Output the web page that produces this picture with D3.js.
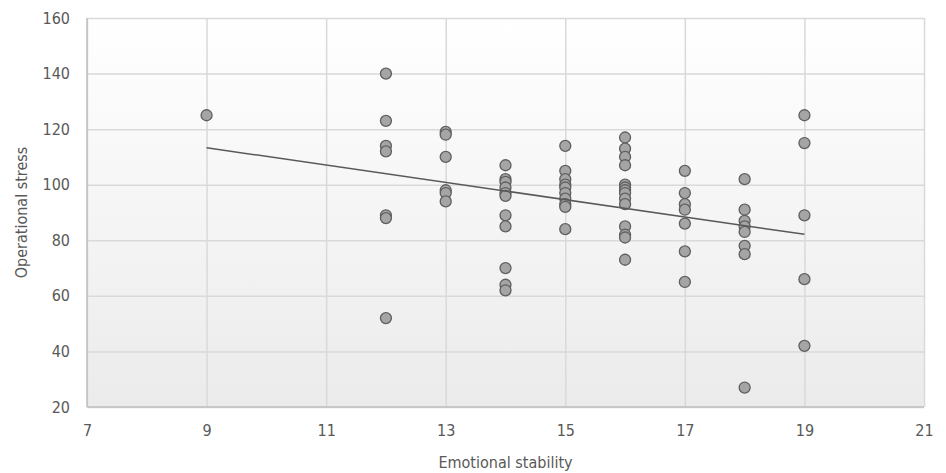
<!DOCTYPE html>
<html>
<head>
<meta charset="utf-8">
<script src="https://cdn.jsdelivr.net/npm/d3@7"></script>
<style>
  body { margin: 0; background: #fff; }
  svg text { font-family: "Liberation Sans Narrow", "Arial Narrow", "DejaVu Sans Condensed", sans-serif; fill: #595959; }
</style>
</head>
<body>
<figure id="scatter" style="margin:0"></figure>
<script>
// emotional stability (x) and operational stress (y), one column per x value
const xValues = [9,
  12, 12, 12, 12, 12, 12, 12,
  13, 13, 13, 13, 13, 13,
  14, 14, 14, 14, 14, 14, 14, 14, 14, 14, 14,
  15, 15, 15, 15, 15, 15, 15, 15, 15, 15,
  16, 16, 16, 16, 16, 16, 16, 16, 16, 16, 16, 16, 16, 16,
  17, 17, 17, 17, 17, 17, 17,
  18, 18, 18, 18, 18, 18, 18, 18,
  19, 19, 19, 19, 19];
const yValues = [125,
  140, 123, 114, 112, 89, 88, 52,
  119, 118, 110, 98, 97, 94,
  107, 102, 101, 99, 97, 96, 89, 85, 70, 64, 62,
  114, 105, 102, 100, 99, 97, 95, 93, 92, 84,
  117, 113, 110, 107, 100, 99, 98, 97, 95, 93, 85, 82, 81, 73,
  105, 97, 93, 91, 86, 76, 65,
  102, 91, 87, 85, 83, 78, 75, 27,
  125, 115, 89, 66, 42];

const xTicks = [7, 9, 11, 13, 15, 17, 19, 21];
const yTicks = [20, 40, 60, 80, 100, 120, 140, 160];

const W = 946, H = 473;
const margin = { top: 18, right: 22, bottom: 66, left: 87 };
const width = W - margin.left - margin.right;
const height = H - margin.top - margin.bottom;

const svg = d3.select('figure#scatter')
  .append('svg')
  .attr('width', W)
  .attr('height', H);

// plot area background: white fading to light grey
const grad = svg.append('defs').append('linearGradient')
  .attr('id', 'bg').attr('x1', 0).attr('y1', 0).attr('x2', 0).attr('y2', 1);
grad.append('stop').attr('offset', '0%').attr('stop-color', '#ffffff');
grad.append('stop').attr('offset', '100%').attr('stop-color', '#ebebeb');

const g = svg.append('g')
  .attr('transform', 'translate(' + margin.left + ',' + margin.top + ')');

g.append('rect')
  .attr('width', width).attr('height', height)
  .attr('fill', 'url(#bg)');

const x = d3.scaleLinear().domain([7, 21]).range([0, width]);
const y = d3.scaleLinear().domain([20, 160]).range([height, 0]);

// gridlines
g.append('g')
  .attr('transform', 'translate(0,' + height + ')')
  .call(d3.axisBottom(x).tickValues(xTicks).tickSize(-height).tickFormat(''))
  .call(ax => ax.select('.domain').remove())
  .call(ax => ax.selectAll('line').attr('stroke', '#d9d9d9').attr('stroke-width', 1.5));

g.append('g')
  .call(d3.axisLeft(y).tickValues(yTicks).tickSize(-width).tickFormat(''))
  .call(ax => ax.select('.domain').remove())
  .call(ax => ax.selectAll('line').attr('stroke', '#d9d9d9').attr('stroke-width', 1.5));

// axis lines
g.append('line').attr('x1', 0).attr('x2', 0).attr('y1', 0).attr('y2', height)
  .attr('stroke', '#bfbfbf').attr('stroke-width', 1.5);
g.append('line').attr('x1', 0).attr('x2', width).attr('y1', height).attr('y2', height)
  .attr('stroke', '#bfbfbf').attr('stroke-width', 1.5);

// tick labels
g.append('g')
  .attr('transform', 'translate(0,' + height + ')')
  .call(d3.axisBottom(x).tickValues(xTicks).tickSize(0).tickPadding(18))
  .call(ax => ax.select('.domain').remove())
  .selectAll('text').style('font-size', '16px');

g.append('g')
  .call(d3.axisLeft(y).tickValues(yTicks).tickSize(0).tickPadding(17))
  .call(ax => ax.select('.domain').remove())
  .selectAll('text').style('font-size', '16px');

// axis titles
svg.append('text')
  .attr('x', margin.left + width / 2)
  .attr('y', H - 5)
  .attr('text-anchor', 'middle')
  .style('font-size', '16px')
  .text('Emotional stability');

svg.append('text')
  .attr('transform', 'translate(27,' + (margin.top + height / 2) + ')rotate(-90)')
  .attr('text-anchor', 'middle')
  .style('font-size', '16px')
  .text('Operational stress');

// linear trendline (least squares)
const n = xValues.length;
const mx = d3.mean(xValues), my = d3.mean(yValues);
let sxy = 0, sxx = 0;
for (let i = 0; i < n; i++) {
  sxy += (xValues[i] - mx) * (yValues[i] - my);
  sxx += (xValues[i] - mx) * (xValues[i] - mx);
}
const slope = sxy / sxx, icpt = my - slope * mx;
const xr = d3.extent(xValues);

// points
g.selectAll('circle')
  .data(xValues.map((v, i) => ({ x: v, y: yValues[i] })))
  .enter()
  .append('circle')
  .attr('cx', d => x(d.x))
  .attr('cy', d => y(d.y))
  .attr('r', 5.5)
  .attr('fill', '#a5a5a5')
  .attr('stroke', '#5f5f5f')
  .attr('stroke-width', 1.3);

g.append('line')
  .attr('x1', x(xr[0])).attr('y1', y(icpt + slope * xr[0]))
  .attr('x2', x(xr[1])).attr('y2', y(icpt + slope * xr[1]))
  .attr('stroke', '#595959').attr('stroke-width', 1.5);
</script>
</body>
</html>
